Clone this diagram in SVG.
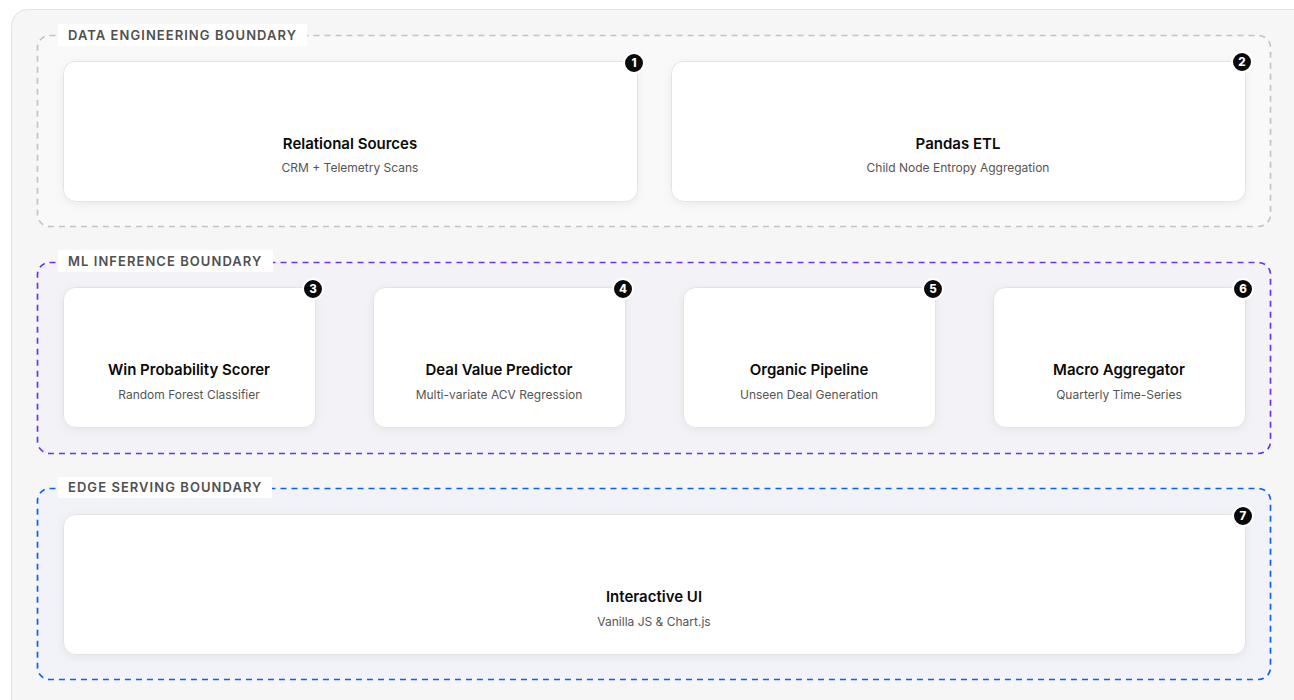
<svg xmlns="http://www.w3.org/2000/svg" width="1294" height="700" viewBox="0 0 1294 700">
<defs>
<pattern id="dots" width="36" height="36" patternUnits="userSpaceOnUse" x="6" y="3">
<circle cx="0" cy="0" r="1" fill="#e6e6ea"/>
</pattern>
<filter id="sh" x="-10%" y="-20%" width="120%" height="150%">
<feDropShadow dx="0" dy="2" stdDeviation="4" flood-color="#000" flood-opacity="0.06"/>
</filter>
<style>
.outer{fill:#f6f6f6;stroke:#e2e2e2;stroke-width:1}
.bnd{stroke-width:1.7;stroke-dasharray:6 5}
.b-data{fill:#f9f9f9;stroke:#c4c4c4}
.b-ml{fill:#f3f3f7;stroke:#7032f0}
.b-edge{fill:#f1f3f8;stroke:#0a62f0}
.lblbg{fill:#ffffff}
.lbl{font-family:Inter,"Liberation Sans",sans-serif;font-size:13px;font-weight:600;letter-spacing:1.05px;fill:#505050}
.node{fill:#ffffff;stroke:#e3e3e3;stroke-width:1;filter:url(#sh)}
.title{font-family:Inter,"Liberation Sans",sans-serif;font-size:15px;font-weight:600;fill:#0a0a0a;text-anchor:middle}
.sub{font-family:Inter,"Liberation Sans",sans-serif;font-size:12px;fill:#555555;text-anchor:middle}
.badge{fill:#0a0a0a;stroke:#ffffff;stroke-width:2}
.bnum{font-family:Inter,"Liberation Sans",sans-serif;font-size:11.5px;font-weight:800;fill:#ffffff;text-anchor:middle}
</style>
</defs>
<rect x="0" y="0" width="1294" height="700" fill="#ffffff"/>
<rect class="outer" x="11.5" y="9.5" width="1300" height="710" rx="16"/>
<rect x="12" y="10" width="1282" height="690" fill="url(#dots)"/>

<g id="boundary-data">
<rect class="bnd b-data" x="37.5" y="35.5" width="1233" height="191" rx="12"/>
<rect class="lblbg" x="58" y="24" width="249" height="22"/>
<text class="lbl" x="68" y="39.5">DATA ENGINEERING BOUNDARY</text>
</g>
<g id="boundary-ml">
<rect class="bnd b-ml" x="37.5" y="262.5" width="1233" height="191" rx="12"/>
<rect class="lblbg" x="58" y="250" width="215" height="22"/>
<text class="lbl" x="68" y="265.5">ML INFERENCE BOUNDARY</text>
</g>
<g id="boundary-edge">
<rect class="bnd b-edge" x="37.5" y="488.5" width="1233" height="191" rx="12"/>
<rect class="lblbg" x="58" y="477" width="214" height="21"/>
<text class="lbl" x="68" y="492">EDGE SERVING BOUNDARY</text>
</g>

<g id="connectors"></g>

<g id="n1">
<rect class="node" x="63.5" y="61.5" width="574" height="140" rx="12"/>
<text class="title" x="350" y="149">Relational Sources</text>
<text class="sub" x="350" y="172">CRM + Telemetry Scans</text>
<circle class="badge" cx="634" cy="63" r="10"/>
<text class="bnum" x="634" y="67">1</text>
</g>
<g id="n2">
<rect class="node" x="671.5" y="61.5" width="574" height="140" rx="12"/>
<text class="title" x="958" y="149">Pandas ETL</text>
<text class="sub" x="958" y="172">Child Node Entropy Aggregation</text>
<circle class="badge" cx="1242" cy="62" r="10"/>
<text class="bnum" x="1242" y="66">2</text>
</g>
<g id="n3">
<rect class="node" x="63.5" y="287.5" width="252" height="140" rx="12"/>
<text class="title" x="189" y="375">Win Probability Scorer</text>
<text class="sub" x="189" y="399">Random Forest Classifier</text>
<circle class="badge" cx="313" cy="289" r="10"/>
<text class="bnum" x="313" y="293">3</text>
</g>
<g id="n4">
<rect class="node" x="373.5" y="287.5" width="252" height="140" rx="12"/>
<text class="title" x="499" y="375">Deal Value Predictor</text>
<text class="sub" x="499" y="399">Multi-variate ACV Regression</text>
<circle class="badge" cx="623" cy="289" r="10"/>
<text class="bnum" x="623" y="293">4</text>
</g>
<g id="n5">
<rect class="node" x="683.5" y="287.5" width="252" height="140" rx="12"/>
<text class="title" x="809" y="375">Organic Pipeline</text>
<text class="sub" x="809" y="399">Unseen Deal Generation</text>
<circle class="badge" cx="933" cy="289" r="10"/>
<text class="bnum" x="933" y="293">5</text>
</g>
<g id="n6">
<rect class="node" x="993.5" y="287.5" width="252" height="140" rx="12"/>
<text class="title" x="1119" y="375">Macro Aggregator</text>
<text class="sub" x="1119" y="399">Quarterly Time-Series</text>
<circle class="badge" cx="1243" cy="289" r="10"/>
<text class="bnum" x="1243" y="293">6</text>
</g>
<g id="n7">
<rect class="node" x="63.5" y="514.5" width="1182" height="140" rx="12"/>
<text class="title" x="654" y="602">Interactive UI</text>
<text class="sub" x="654" y="626">Vanilla JS &amp; Chart.js</text>
<circle class="badge" cx="1243" cy="516" r="10"/>
<text class="bnum" x="1243" y="520">7</text>
</g>
</svg>
